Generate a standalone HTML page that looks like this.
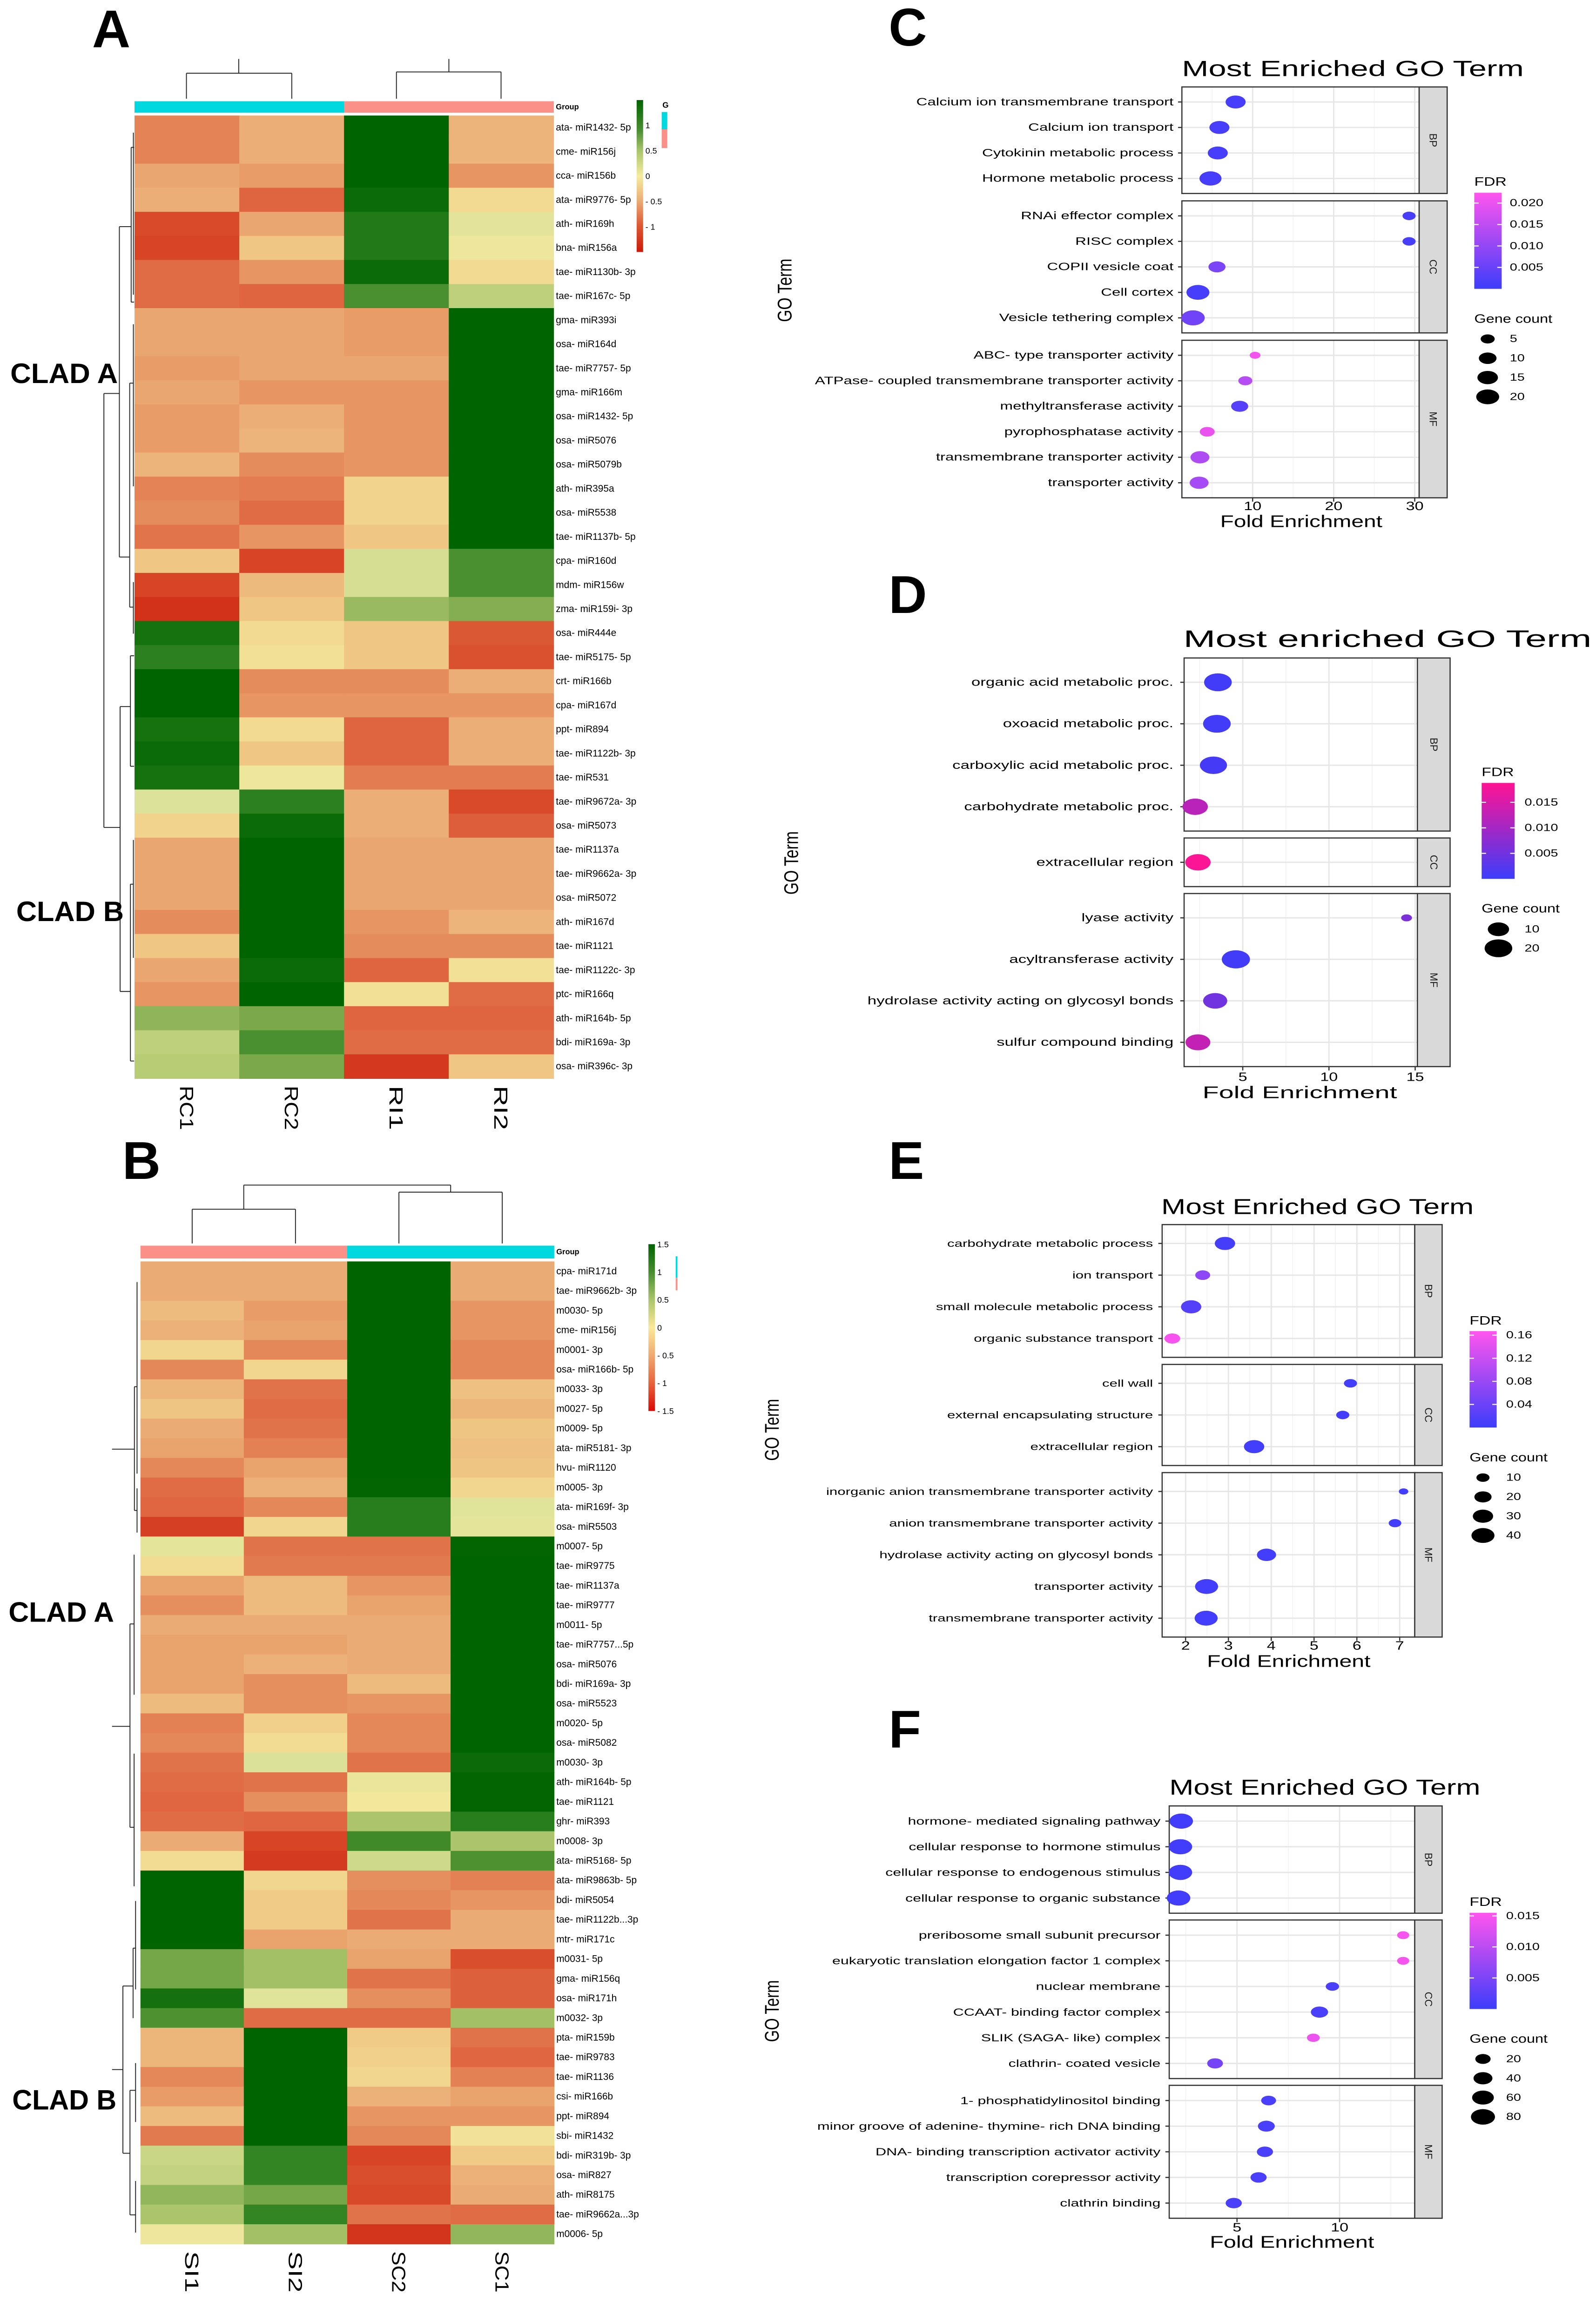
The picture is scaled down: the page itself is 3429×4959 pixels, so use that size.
<!DOCTYPE html>
<html><head><meta charset="utf-8">
<style>
html,body{margin:0;padding:0;background:#fff}
svg{display:block}
text{font-family:"Liberation Sans",Arial,sans-serif}
</style></head>
<body>
<svg id="fig" xmlns="http://www.w3.org/2000/svg" width="3429" height="4959" viewBox="0 0 1083 1566.2" preserveAspectRatio="none">
<defs>
<linearGradient id="gHeatA" x1="0" y1="0" x2="0" y2="1">
<stop offset="0" stop-color="#006400"/><stop offset="0.2" stop-color="#4a8e32"/><stop offset="0.33" stop-color="#a8c46a"/><stop offset="0.5" stop-color="#f5eca0"/><stop offset="0.66" stop-color="#ebae76"/><stop offset="0.82" stop-color="#de5a36"/><stop offset="1" stop-color="#cc1a0a"/>
</linearGradient>
<linearGradient id="gHeatB" x1="0" y1="0" x2="0" y2="1">
<stop offset="0" stop-color="#006400"/><stop offset="0.17" stop-color="#4a8e32"/><stop offset="0.33" stop-color="#a8c46a"/><stop offset="0.5" stop-color="#fbe898"/><stop offset="0.67" stop-color="#f0a870"/><stop offset="0.83" stop-color="#e8643e"/><stop offset="1" stop-color="#dc0a06"/>
</linearGradient>
</defs>
<rect x="0" y="0" width="1083" height="1566.2" fill="#fff"/>
</svg>
<script>
// ---------------- Heatmap A data ----------------
const hmARows=['ata- miR1432- 5p','cme- miR156j','cca- miR156b','ata- miR9776- 5p','ath- miR169h','bna- miR156a','tae- miR1130b- 3p','tae- miR167c- 5p','gma- miR393i','osa- miR164d','tae- miR7757- 5p','gma- miR166m','osa- miR1432- 5p','osa- miR5076','osa- miR5079b','ath- miR395a','osa- miR5538','tae- miR1137b- 5p','cpa- miR160d','mdm- miR156w','zma- miR159i- 3p','osa- miR444e','tae- miR5175- 5p','crt- miR166b','cpa- miR167d','ppt- miR894','tae- miR1122b- 3p','tae- miR531','tae- miR9672a- 3p','osa- miR5073','tae- miR1137a','tae- miR9662a- 3p','osa- miR5072','ath- miR167d','tae- miR1121','tae- miR1122c- 3p','ptc- miR166q','ath- miR164b- 5p','bdi- miR169a- 3p','osa- miR396c- 3p'];
const hmACols=['RC1','RC2','RI1','RI2'];
const hmAGroups=['cyan','cyan','salmon','salmon'];
const hmAVals=[
[-0.7,-0.45,1.2,-0.4],[-0.7,-0.45,1.2,-0.4],[-0.5,-0.55,1.2,-0.6],[-0.45,-0.9,1.15,-0.1],
[-1.1,-0.5,1.05,0.15],[-1.15,-0.25,1.05,0.05],[-0.85,-0.6,1.15,-0.1],[-0.85,-0.9,0.9,0.4],
[-0.5,-0.5,-0.55,1.2],[-0.5,-0.5,-0.55,1.2],[-0.55,-0.5,-0.5,1.2],[-0.5,-0.6,-0.6,1.2],
[-0.55,-0.45,-0.6,1.2],[-0.55,-0.4,-0.6,1.2],[-0.4,-0.65,-0.6,1.2],[-0.7,-0.75,-0.15,1.2],
[-0.65,-0.85,-0.15,1.2],[-0.8,-0.6,-0.25,1.2],[-0.25,-1.15,0.25,0.9],[-1.15,-0.35,0.25,0.9],
[-1.3,-0.25,0.6,0.7],[1.1,-0.1,-0.25,-1.0],[1.0,-0.05,-0.25,-1.05],[1.2,-0.65,-0.65,-0.45],
[1.2,-0.6,-0.6,-0.6],[1.1,-0.1,-0.9,-0.45],[1.15,-0.25,-0.9,-0.45],[1.1,0.05,-0.75,-0.75],
[0.2,1.0,-0.45,-1.1],[-0.15,1.15,-0.45,-0.95],[-0.5,1.2,-0.5,-0.5],[-0.5,1.2,-0.5,-0.5],
[-0.5,1.2,-0.5,-0.5],[-0.65,1.2,-0.6,-0.4],[-0.25,1.2,-0.65,-0.65],[-0.5,1.15,-0.9,-0.05],
[-0.6,1.2,-0.05,-0.85],[0.65,0.75,-0.9,-0.9],[0.4,0.9,-0.85,-0.85],[0.45,0.75,-1.25,-0.25]];
const hmALegendTicks=[1,0.5,0,-0.5,-1];

// ---------------- Heatmap B data ----------------
const hmBRows=['cpa- miR171d','tae- miR9662b- 3p','m0030- 5p','cme- miR156j','m0001- 3p','osa- miR166b- 5p','m0033- 3p','m0027- 5p','m0009- 5p','ata- miR5181- 3p','hvu- miR1120','m0005- 3p','ata- miR169f- 3p','osa- miR5503','m0007- 5p','tae- miR9775','tae- miR1137a','tae- miR9777','m0011- 5p','tae- miR7757...5p','osa- miR5076','bdi- miR169a- 3p','osa- miR5523','m0020- 5p','osa- miR5082','m0030- 3p','ath- miR164b- 5p','tae- miR1121','ghr- miR393','m0008- 3p','ata- miR5168- 5p','ata- miR9863b- 5p','bdi- miR5054','tae- miR1122b...3p','mtr- miR171c','m0031- 5p','gma- miR156q','osa- miR171h','m0032- 3p','pta- miR159b','tae- miR9783','tae- miR1136','csi- miR166b','ppt- miR894','sbi- miR1432','bdi- miR319b- 3p','osa- miR827','ath- miR8175','tae- miR9662a...3p','m0006- 5p'];
const hmBCols=['SI1','SI2','SC2','SC1'];
const hmBGroups=['salmon','salmon','cyan','cyan'];
const hmBVals=[
[-0.55,-0.55,1.5,-0.55],[-0.55,-0.55,1.5,-0.55],[-0.4,-0.65,1.5,-0.7],[-0.5,-0.6,1.5,-0.7],
[-0.15,-0.8,1.5,-0.8],[-0.8,-0.15,1.5,-0.8],[-0.45,-0.95,1.5,-0.35],[-0.3,-1.0,1.5,-0.45],
[-0.55,-0.95,1.5,-0.3],[-0.6,-0.85,1.5,-0.35],[-0.8,-0.6,1.45,-0.3],[-1.0,-0.5,1.4,-0.15],
[-1.05,-0.8,1.2,0.2],[-1.4,-0.15,1.2,0.15],[0.15,-0.95,-0.95,1.4],[-0.1,-0.9,-0.9,1.5],
[-0.6,-0.4,-0.7,1.5],[-0.75,-0.4,-0.6,1.5],[-0.55,-0.55,-0.55,1.5],[-0.6,-0.6,-0.55,1.5],
[-0.6,-0.5,-0.55,1.5],[-0.6,-0.75,-0.4,1.5],[-0.4,-0.75,-0.7,1.5],[-0.85,-0.2,-0.8,1.5],
[-0.8,-0.1,-0.8,1.5],[-0.95,0.25,-0.95,1.35],[-1.0,-0.95,0.1,1.4],[-1.05,-0.75,0.0,1.4],
[-1.0,-1.05,0.6,1.2],[-0.55,-1.35,1.1,0.6],[-0.1,-1.45,0.35,1.05],[1.5,-0.15,-0.75,-0.85],
[1.5,-0.25,-0.8,-0.7],[1.5,-0.25,-0.95,-0.55],[1.5,-0.6,-0.55,-0.55],[0.9,0.65,-0.6,-1.25],
[0.9,0.65,-0.95,-1.1],[1.3,0.2,-0.75,-1.1],[1.05,-1.0,-1.0,0.65],[-0.45,1.5,-0.25,-0.95],
[-0.45,1.5,-0.2,-1.05],[-0.8,1.5,-0.15,-0.85],[-0.65,1.5,-0.5,-0.6],[-0.4,1.5,-0.7,-0.7],
[-0.9,1.5,-0.8,-0.05],[0.4,1.15,-1.35,-0.25],[0.45,1.15,-1.25,-0.5],[0.75,0.9,-1.3,-0.55],
[0.6,1.15,-0.95,-1.0],[0.05,0.65,-1.5,0.75]];
const hmBLegendTicks=[1.5,1,0.5,0,-0.5,-1,-1.5];

// ---------------- Panel C data ----------------
const cTerms=['Calcium ion transmembrane transport','Calcium ion transport','Cytokinin metabolic process','Hormone metabolic process','RNAi effector complex','RISC complex','COPII vesicle coat','Cell cortex','Vesicle tethering complex','ABC- type transporter activity','ATPase- coupled transmembrane transporter activity','methyltransferase activity','pyrophosphatase activity','transmembrane transporter activity','transporter activity'];
const cFacet=['BP','BP','BP','BP','CC','CC','CC','CC','CC','MF','MF','MF','MF','MF','MF'];
const cFold=[7.9,5.9,5.7,4.8,29.3,29.3,5.6,3.25,2.65,10.3,9.1,8.4,4.4,3.5,3.4];
const cCount=[14,14,14,18,4,4,9,20,21,2,5,9,6,12,12];
const cFdr=[0.001,0.001,0.001,0.001,0.001,0.001,0.007,0.001,0.006,0.021,0.014,0.003,0.020,0.013,0.012];
const cXTicks=[10,20,30];
const cFdrTicks=[0.020,0.015,0.010,0.005];
const cSizeTicks=[5,10,15,20];

// ---------------- Panel D data ----------------
const dTerms=['organic acid metabolic proc.','oxoacid metabolic proc.','carboxylic acid metabolic proc.','carbohydrate metabolic proc.','extracellular region','lyase activity','acyltransferase activity','hydrolase activity acting on glycosyl bonds','sulfur compound binding'];
const dFacet=['BP','BP','BP','BP','CC','MF','MF','MF','MF'];
const dFold=[3.56,3.5,3.3,2.24,2.4,14.5,4.6,3.4,2.4];
const dCount=[20,20,19,16,16,1,21,14,15];
const dFdr=[0.0005,0.0005,0.0008,0.012,0.0185,0.006,0.0005,0.005,0.013];
const dXTicks=[5,10,15];
const dFdrTicks=[0.015,0.010,0.005];
const dSizeTicks=[10,20];

// ---------------- Panel E data ----------------
const eTerms=['carbohydrate metabolic process','ion transport','small molecule metabolic process','organic substance transport','cell wall','external encapsulating structure','extracellular region','inorganic anion transmembrane transporter activity','anion transmembrane transporter activity','hydrolase activity acting on glycosyl bonds','transporter activity','transmembrane transporter activity'];
const eFacet=['BP','BP','BP','BP','CC','CC','CC','MF','MF','MF','MF','MF'];
const eFold=[2.92,2.4,2.13,1.69,5.85,5.67,3.6,7.09,6.89,3.89,2.49,2.48];
const eCount=[30,14,30,16,10,10,30,4,9,26,40,40];
const eFdr=[0.006,0.07,0.02,0.16,0.005,0.005,0.004,0.005,0.005,0.005,0.004,0.004];
const eXTicks=[2,3,4,5,6,7];
const eFdrTicks=[0.16,0.12,0.08,0.04];
const eSizeTicks=[10,20,30,40];

// ---------------- Panel F data ----------------
const fTerms=['hormone- mediated signaling pathway','cellular response to hormone stimulus','cellular response to endogenous stimulus','cellular response to organic substance','preribosome small subunit precursor','eukaryotic translation elongation factor 1 complex','nuclear membrane','CCAAT- binding factor complex','SLIK (SAGA- like) complex','clathrin- coated vesicle','1- phosphatidylinositol binding','minor groove of adenine- thymine- rich DNA binding','DNA- binding transcription activator activity','transcription corepressor activity','clathrin binding'];
const fFacet=['BP','BP','BP','BP','CC','CC','CC','CC','CC','CC','MF','MF','MF','MF','MF'];
const fFold=[2.28,2.24,2.24,2.15,13.1,13.1,9.65,9.02,8.72,3.93,6.54,6.43,6.36,6.05,4.84];
const fCount=[75,75,75,75,8,8,12,30,10,22,18,28,24,24,24];
const fFdr=[0.0003,0.0003,0.0003,0.0003,0.0148,0.0148,0.001,0.001,0.014,0.0045,0.001,0.001,0.001,0.001,0.001];
const fXTicks=[5,10];
const fFdrTicks=[0.015,0.010,0.005];
const fSizeTicks=[20,40,60,80];

// ---------------- helpers ----------------
const NS='http://www.w3.org/2000/svg';
const root=document.getElementById('fig');
function mk(tag,attrs,parent){const e=document.createElementNS(NS,tag);for(const k in attrs)e.setAttribute(k,attrs[k]);(parent||root).appendChild(e);return e;}
function label(str,x,y,size,o,parent){
  o=o||{};
  const t=document.createElementNS(NS,'text');
  t.textContent=str;
  t.setAttribute('font-size',size);
  t.setAttribute('text-anchor',o.anchor||'start');
  if(o.baseline)t.setAttribute('dominant-baseline',o.baseline);
  if(o.weight)t.setAttribute('font-weight',o.weight);
  if(o.len){t.setAttribute('textLength',o.len);t.setAttribute('lengthAdjust','spacingAndGlyphs');}
  t.setAttribute('fill',o.fill||'#000');
  let tr='translate('+x+','+y+')';
  if(o.rot)tr+=' rotate('+o.rot+')';
  if(o.sx||o.sy)tr+=' scale('+(o.sx||1)+','+(o.sy||1)+')';
  t.setAttribute('transform',tr);
  (parent||root).appendChild(t);
  return t;
}
function line(x1,y1,x2,y2,stroke,w,parent){return mk('line',{x1:x1,y1:y1,x2:x2,y2:y2,stroke:stroke,'stroke-width':w},parent);}
function hex(c){return [parseInt(c.slice(1,3),16),parseInt(c.slice(3,5),16),parseInt(c.slice(5,7),16)];}
function mix(a,b,t){const A=hex(a),B=hex(b);return 'rgb('+A.map((v,i)=>Math.round(v+(B[i]-v)*t)).join(',')+')';}
const HEAT_STOPS=[[-1.5,'#cc1a0a'],[-1.1,'#d84a2a'],[-0.85,'#e06c45'],[-0.65,'#e58c5c'],[-0.45,'#ebae76'],[-0.2,'#f0cc88'],[0,'#f3e79c'],[0.2,'#dde29a'],[0.45,'#b8cc76'],[0.75,'#7aa84a'],[1.0,'#2c801f'],[1.2,'#006400']];
function heatColor(v){
  if(v<=HEAT_STOPS[0][0])return HEAT_STOPS[0][1];
  for(let i=1;i<HEAT_STOPS.length;i++){
    if(v<=HEAT_STOPS[i][0]){const a=HEAT_STOPS[i-1],b=HEAT_STOPS[i];return mix(a[1],b[1],(v-a[0])/(b[0]-a[0]));}
  }
  return HEAT_STOPS[HEAT_STOPS.length-1][1];
}
const GROUP_COLORS={cyan:'#00d8e0',salmon:'#fa9088'};

// ---------------- heatmap drawing ----------------
function drawHeatmap(rows,cols,groups,vals,factor,geo,key,legendTicks,legendGeo,gradId){
  const g=mk('g',{});
  
  
  const cw=(geo.x1-geo.x0)/cols.length, rh=(geo.y1-geo.y0)/rows.length;
  rows.forEach((r,i)=>{
    cols.forEach((c,j)=>{
      const rc=mk('rect',{x:geo.x0+j*cw,y:geo.y0+i*rh,width:cw+0.3,height:rh+0.3,fill:heatColor(vals[i][j]*factor)},g);
      
      
    });
    const t=label(r,geo.x1+1.6,geo.y0+(i+0.5)*rh,6.6,{baseline:'central'},g);
    
    
  });
  cols.forEach((c,j)=>{
    const gb=mk('rect',{x:geo.x0+j*cw,y:geo.gy0,width:cw+0.2,height:geo.gy1-geo.gy0,fill:GROUP_COLORS[groups[j]]},g);
    
    
    const t=label(c,geo.x0+(j+0.5)*cw-4.6,geo.y1+5,13,{rot:90,len:geo.colLen},g);
    
    
  });
  const gl=label('Group',geo.x1+1.6,(geo.gy0+geo.gy1)/2,5.2,{baseline:'central',weight:'bold'},g);
  
  
  // legend
  const lb=mk('rect',{x:legendGeo.x,y:legendGeo.y0,width:legendGeo.w,height:legendGeo.y1-legendGeo.y0,fill:'url(#'+gradId+')'},g);
  
  
  legendTicks.forEach(v=>{
    const y=legendGeo.yAt(v);
    const t=label(v<0?'- '+Math.abs(v):String(v),legendGeo.x+legendGeo.w+1.6,y,5.6,{baseline:'central'},g);
    
    
  });
  return g;
}
function drawLines(segs,key){
  const g=mk('g',{});
  
  
  segs.forEach(s=>{line(s[0],s[1],s[2],s[3],'#222',0.6,g);});
}

// Heatmap A
drawHeatmap(hmARows,hmACols,hmAGroups,hmAVals,1,{x0:91.3,x1:375.6,y0:78.4,y1:731.8,gy0:68.7,gy1:76.5,colLen:30},'heatmap-a',hmALegendTicks,{x:432,w:4.4,y0:67.9,y1:171,yAt:v=>119.5-v*34.45},'gHeatA');
// Heatmap B
drawHeatmap(hmBRows,hmBCols,hmBGroups,hmBVals,0.85,{x0:95.3,x1:375.9,y0:856,y1:1522.7,gy0:845.3,gy1:854,colLen:28},'heatmap-b',hmBLegendTicks,{x:440,w:4.4,y0:844.3,y1:957.5,yAt:v=>901-v*37.7},'gHeatB');

// group legends
(function(){
  let t=label('G',449.5,71.4,5.4,{baseline:'central',weight:'bold'});
  
  
  let r=mk('rect',{x:449,y:76,width:3.8,height:11.8,fill:GROUP_COLORS.cyan});
  
  
  r=mk('rect',{x:449,y:87.8,width:3.8,height:12.7,fill:GROUP_COLORS.salmon});
  
  
  r=mk('rect',{x:458.5,y:852.5,width:1.2,height:14.5,fill:GROUP_COLORS.cyan});
  
  
  r=mk('rect',{x:458.5,y:867,width:1.2,height:8.6,fill:GROUP_COLORS.salmon});
  
  
})();

// dendrograms
drawLines([
 [126.5,49.7,198,49.7],[126.5,49.7,126.5,67],[198,49.7,198,67],[162,49.7,162,40],
 [269,48.8,340,48.8],[269,48.8,269,67],[340,48.8,340,67],[304.6,48.8,304.6,40]
],'heatmap-a-column-dendrogram');
drawLines([
 [70.5,267,70.5,561.5],[70.5,267,81,267],[70.5,561.5,81.5,561.5],
 [81,153.8,81,378],[81,153.8,89,153.8],[89,100,89,205],[89,100,91,100],[89,205,91,205],[90.5,90,90.5,200],
 [81,378,88,378],[88,260,88,412],[88,260,90.5,260],[90.5,220,90.5,330],[88,412,90.5,412],[90.5,395,90.5,430],
 [81.5,479.5,81.5,672.8],[81.5,479.5,88.5,479.5],[88.5,445,88.5,520],[88.5,445,91,445],[88.5,520,91,520],
 [81.5,672.8,88.5,672.8],[88.5,600,88.5,720],[88.5,600,90.5,600],[90.5,570,90.5,650],[88.5,720,91,720]
],'heatmap-a-row-dendrogram');
drawLines([
 [130.4,820.6,200.5,820.6],[130.4,820.6,130.4,843.8],[200.5,820.6,200.5,843.8],
 [270.7,809,340.8,809],[270.7,809,270.7,843.8],[340.8,809,340.8,843.8],
 [165.4,804.2,305.8,804.2],[165.4,804.2,165.4,820.6],[305.8,804.2,305.8,809]
],'heatmap-b-column-dendrogram');
drawLines([
 [76,983.4,91.2,983.4],[91.2,941,91.2,1025],[91.2,941,93,941],[93,870,93,1000],[91.2,1025,93,1025],[93,1010,93,1040],
 [76,1171.5,88.2,1171.5],[88.2,1102,88.2,1240],[88.2,1102,91,1102],[91,1055,91,1150],[88.2,1240,91,1240],[91,1190,91,1280],
 [76,1404.4,83.4,1404.4],[83.4,1347.7,83.4,1461.2],[83.4,1347.7,90.3,1347.7],[90.3,1322,90.3,1369.5],[90.3,1322,92,1322],[92,1290,92,1350],
 [83.4,1461.2,88.2,1461.2],[88.2,1418.5,88.2,1503],[88.2,1418.5,92,1418.5],[92,1400,92,1440],[88.2,1503,92,1503],[92,1480,92,1515]
],'heatmap-b-row-dendrogram');

// panel letters and clade labels
[['A',75.5,32,'panel-letter-a'],['B',96,800,'panel-letter-b'],['C',616,31,'panel-letter-c'],['D',616,416,'panel-letter-d'],['E',615,800,'panel-letter-e'],['F',614,1186,'panel-letter-f']].forEach(p=>{
  const t=label(p[0],p[1],p[2],36,{anchor:'middle',weight:'bold'});
  
  
});
[['CLAD A',7,260,73,'clade-a-label-top'],['CLAD B',11,625,73,'clade-b-label-top'],['CLAD A',5.8,1100.5,71.6,'clade-a-label-bottom'],['CLAD B',8.3,1431.5,70.7,'clade-b-label-bottom']].forEach(p=>{
  const t=label(p[0],p[1],p[2],19,{weight:'bold',len:p[3]});
  
  
});

// ---------------- dot plot panels ----------------
const BLUE='#3d3dfb';
function drawDot(cfg,terms,facets,fold,count,fdr,xticks,fdrTicks,sizeTicks){
  const g=mk('g',{});
  
  
  const X=v=>cfg.x0+(v-cfg.v0)*cfg.k;
  const W=n=>cfg.sa+cfg.sb*Math.sqrt(n);
  const col=f=>mix(BLUE,cfg.hi,Math.min(1,f/cfg.fdrMax));
  // facets
  const names=[];facets.forEach(f=>{if(names.indexOf(f)<0)names.push(f);});
  let top=cfg.top;const rowY=[];
  const sx=1.45;
  // minor grid values
  const minor=[];for(let i=0;i<xticks.length;i++){const step=(xticks.length>1?xticks[1]-xticks[0]:5);minor.push(xticks[i]-step/2);if(i===xticks.length-1)minor.push(xticks[i]+step/2);}
  names.forEach(nm=>{
    const idx=[];facets.forEach((f,i)=>{if(f===nm)idx.push(i);});
    const h=(idx.length-1)*cfg.step+2*cfg.pad;
    const bg=mk('rect',{x:cfg.left,y:top,width:cfg.right-cfg.left,height:h,fill:'#fff'},g);
    
    
    minor.forEach(v=>{const x=X(v);if(x>cfg.left&&x<cfg.right){const l=line(x,top,x,top+h,'#f2f2f2',0.5,g);}});
    xticks.forEach(v=>{const x=X(v);if(x>cfg.left&&x<cfg.right){const l=line(x,top,x,top+h,'#e6e6e6',0.9,g);}});
    idx.forEach((i,k)=>{
      const y=top+cfg.pad+k*cfg.step;rowY[i]=y;
      const l=line(cfg.left,y,cfg.right,y,'#e6e6e6',0.9,g);
      
      
      const tk=line(cfg.left-2.6,y,cfg.left,y,'#333',0.8,g);
      
      
      const t=label(terms[i],cfg.labelEnd,y,cfg.font,{anchor:'end',baseline:'central',sx:sx},g);
      
      
    });
    const bd=mk('rect',{x:cfg.left,y:top,width:cfg.right-cfg.left,height:h,fill:'none',stroke:'#333','stroke-width':0.8},g);
    
    
    const st=mk('rect',{x:cfg.right,y:top,width:cfg.stripR-cfg.right,height:h,fill:'#d9d9d9',stroke:'#333','stroke-width':0.8},g);
    
    
    const stl=label(nm,(cfg.right+cfg.stripR)/2-2.4,top+h/2,7,{anchor:'middle',rot:90,fill:'#1a1a1a'},g);
    
    
    cfg.lastBottom=top+h;
    top=top+h+cfg.gap;
  });
  // dots
  terms.forEach((t,i)=>{
    const w=W(count[i]);
    const d=mk('ellipse',{cx:X(fold[i]),cy:rowY[i],rx:w/2,ry:w/2/1.55,fill:col(fdr[i])},g);
    
    
  });
  // x axis
  xticks.forEach(v=>{
    const x=X(v);
    const tk=line(x,cfg.lastBottom,x,cfg.lastBottom+2.6,'#333',0.8,g);
    
    
    const t=label(String(v),x,cfg.tickY,8.3,{anchor:'middle',baseline:'central',sx:1.3},g);
    
    
  });
  let t=label('Fold Enrichment',cfg.feX,cfg.feY,11.5,{anchor:'middle',baseline:'central',len:cfg.feLen},g);
  
  
  t=label('GO Term',cfg.goX+4.5,cfg.goY,9,{anchor:'middle',rot:-90,sy:1.5,len:cfg.goLen},g);
  
  
  t=label(cfg.title,cfg.titleX,cfg.titleY,cfg.titleSize,{anchor:'middle',len:cfg.titleLen},g);
  
  
  // FDR legend
  const L=cfg.leg;
  t=label('FDR',L.bx0,L.fdrTitleY,8.2,{baseline:'central',sx:1.3},g);
  
  
  const gid='g'+cfg.key;
  const lg=mk('linearGradient',{id:gid,x1:0,y1:1,x2:0,y2:0},g);
  mk('stop',{offset:0,'stop-color':BLUE},lg);
  mk('stop',{offset:1,'stop-color':cfg.hi},lg);
  const bar=mk('rect',{x:L.bx0,y:L.by0,width:L.bx1-L.bx0,height:L.by1-L.by0,fill:'url(#'+gid+')'},g);
  
  
  const FY=f=>L.by1-(f/cfg.fdrMax)*(L.by1-L.by0);
  fdrTicks.forEach(f=>{
    const y=FY(f);
    let l=line(L.bx0,y,L.bx0+3,y,'#fff',0.7,g);
    
    
    l=line(L.bx1-3,y,L.bx1,y,'#fff',0.7,g);
    
    
    const tt=label(f.toFixed(cfg.fdrDigits),L.labX,y,7,{baseline:'central',sx:1.3},g);
    
    
  });
  t=label('Gene count',L.bx0,L.gcTitleY,8.2,{baseline:'central',sx:1.25},g);
  
  
  sizeTicks.forEach((n,k)=>{
    const y=L.gcY0+k*L.gcStep;
    const w=W(n);
    const d=mk('ellipse',{cx:L.dotX,cy:y,rx:w/2,ry:w/2/1.55,fill:'#000'},g);
    
    
    const tt=label(String(n),L.labX,y,7,{baseline:'central',sx:1.3},g);
    
    
  });
}

drawDot({key:'panel-c-dotplot',x0:795,v0:0,k:5.5,left:802,right:963,stripR:982,top:59,pad:10.2,step:17.3,gap:5,labelEnd:796.3,font:7.2,
  sa:3.5,sb:2.7,hi:'#ff55ee',fdrMax:0.0224,fdrDigits:3,tickY:343.5,feX:883,feY:353.7,feLen:110,goX:532.6,goY:197,goLen:43,
  title:'Most Enriched GO Term',titleX:918,titleY:51.6,titleSize:15,titleLen:232,
  leg:{bx0:1000.4,bx1:1019,by0:130.8,by1:196,fdrTitleY:123.5,labX:1024.5,gcTitleY:216.3,gcY0:230,gcStep:13.1,dotX:1009.5}},
  cTerms,cFacet,cFold,cCount,cFdr,cXTicks,cFdrTicks,cSizeTicks);

drawDot({key:'panel-d-dotplot',x0:843.3,v0:5,k:11.7,left:803.5,right:961.8,stripR:984,top:446.5,pad:16.5,step:28.15,gap:4.7,labelEnd:796.3,font:7.6,
  sa:4.1,sb:3.28,hi:'#ff1493',fdrMax:0.0188,fdrDigits:3,tickY:730.8,feX:882,feY:741.3,feLen:132,goX:537,goY:585.6,goLen:43,
  title:'Most enriched GO Term',titleX:941.5,titleY:439,titleSize:16,titleLen:277,
  leg:{bx0:1005.4,bx1:1027.8,by0:531.3,by1:596.4,fdrTitleY:524,labX:1034.5,gcTitleY:616.6,gcY0:630.6,gcStep:12.9,dotX:1016.8}},
  dTerms,dFacet,dFold,dCount,dFdr,dXTicks,dFdrTicks,dSizeTicks);

drawDot({key:'panel-e-dotplot',x0:804.5,v0:2,k:29.06,left:788.6,right:960,stripR:978.6,top:831,pad:12.8,step:21.5,gap:4.8,labelEnd:782.4,font:6.8,
  sa:2.2,sb:2.12,hi:'#ff55ee',fdrMax:0.167,fdrDigits:2,tickY:1116.7,feX:874.5,feY:1127.2,feLen:111,goX:523.9,goY:970.3,goLen:42,
  title:'Most Enriched GO Term',titleX:894,titleY:823.8,titleSize:14.6,titleLen:212,
  leg:{bx0:997.2,bx1:1015.6,by0:903.3,by1:968.7,fdrTitleY:896.2,labX:1022,gcTitleY:989.1,gcY0:1002.7,gcStep:13.1,dotX:1006.3}},
  eTerms,eFacet,eFold,eCount,eFdr,eXTicks,eFdrTicks,eSizeTicks);

drawDot({key:'panel-f-dotplot',x0:839.4,v0:5,k:13.92,left:793.4,right:960,stripR:978.6,top:1225.5,pad:10.3,step:17.4,gap:4.6,labelEnd:787.5,font:7.0,
  sa:4.5,sb:1.32,hi:'#ff55ee',fdrMax:0.0155,fdrDigits:3,tickY:1511.5,feX:876.7,feY:1521.3,feLen:111.5,goX:523.9,goY:1364.7,goLen:42,
  title:'Most Enriched GO Term',titleX:899,titleY:1217.8,titleSize:14.6,titleLen:211,
  leg:{bx0:997.2,bx1:1015.6,by0:1298,by1:1363.3,fdrTitleY:1290.7,labX:1022,gcTitleY:1383.6,gcY0:1397.2,gcStep:13.1,dotX:1006.3}},
  fTerms,fFacet,fFold,fCount,fFdr,fXTicks,fFdrTicks,fSizeTicks);
</script>
</body></html>
